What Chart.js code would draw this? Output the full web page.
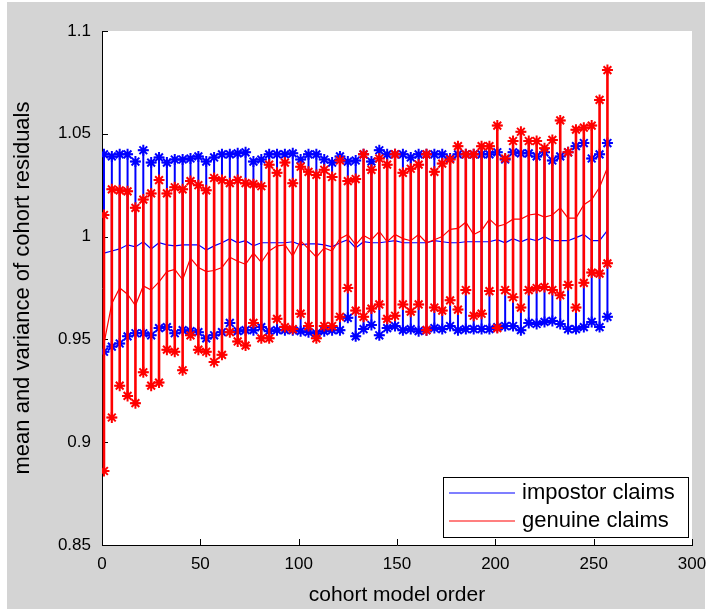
<!DOCTYPE html>
<html>
<head>
<meta charset="utf-8">
<script src="https://cdn.jsdelivr.net/npm/chart.js@4/dist/chart.umd.min.js"></script>
<style>
html,body{margin:0;padding:0;background:#ffffff;}
#bg{position:absolute;left:7px;top:2px;width:698px;height:607px;background:#d4d4d4;}
#wrap{position:absolute;left:0;top:0;width:709px;height:609px;}
</style>
</head>
<body>
<div id="bg"></div>
<div id="wrap"><canvas id="c" width="709" height="609"></canvas></div>
<script>
// ---- data ----
const cohortOrder = [1,5,9,13,17,21,25,29,33,37,41,45,49,53,57,61,65,69,73,77,81,85,89,93,97,101,105,109,113,117,121,125,129,133,137,141,145,149,153,157,161,165,169,173,177,181,185,189,193,197,201,205,209,213,217,221,225,229,233,237,241,245,249,253,257];

const impostorMean = [0.992,0.993,0.994,0.996,0.995,0.9975,0.994,0.997,0.996,0.9955,
  0.996,0.996,0.996,0.9935,0.9955,0.997,0.999,0.997,0.998,0.9955,
  0.997,0.997,0.997,0.997,0.9975,0.996,0.9965,0.9965,0.996,0.995,
  0.997,0.9985,0.9945,0.9975,0.997,0.997,0.9975,0.998,0.997,0.997,
  0.997,0.997,0.998,0.9975,0.997,0.997,0.9975,0.9975,0.9975,0.9975,
  0.9985,0.997,0.999,0.9975,0.999,0.998,1.000,0.998,0.998,0.998,
  0.9995,1.001,0.998,0.998,1.003];
const impostorHigh = [1.040,1.039,1.040,1.040,1.0365,1.042,1.036,1.0385,1.036,1.0375,
  1.0375,1.038,1.039,1.0365,1.0385,1.040,1.040,1.0405,1.041,1.0365,
  1.0375,1.040,1.040,1.040,1.0405,1.0375,1.040,1.040,1.0375,1.036,
  1.039,1.0365,1.037,1.040,1.0365,1.042,1.040,1.040,1.040,1.0385,
  1.040,1.040,1.040,1.040,1.038,1.040,1.040,1.040,1.040,1.040,
  1.041,1.0375,1.041,1.0405,1.0405,1.039,1.041,1.037,1.039,1.041,
  1.044,1.0455,1.038,1.040,1.0455];
const impostorLow = [0.944,0.9465,0.948,0.9515,0.953,0.953,0.952,0.9555,0.956,0.953,
  0.9545,0.954,0.9535,0.9505,0.952,0.9535,0.958,0.954,0.9545,0.9545,
  0.956,0.954,0.9545,0.9545,0.9545,0.954,0.9535,0.953,0.954,0.9545,
  0.9545,0.9605,0.9515,0.955,0.957,0.952,0.9555,0.9565,0.9545,0.955,
  0.954,0.9545,0.9555,0.955,0.9565,0.9545,0.955,0.955,0.955,0.955,
  0.956,0.9565,0.9565,0.9545,0.958,0.9575,0.9585,0.959,0.9575,0.955,
  0.955,0.956,0.9585,0.956,0.961];

const genuineMean = [0.948,0.9675,0.975,0.972,0.9665,0.976,0.974,0.978,0.983,0.984,
  0.979,0.9895,0.985,0.983,0.9835,0.985,0.990,0.988,0.9865,0.992,
  0.9875,0.993,0.9955,0.996,0.9905,0.998,0.994,0.990,0.9945,0.993,
  0.999,1.001,0.996,1.0005,0.9985,1.0025,0.9975,1.001,0.999,0.998,
  1.001,0.997,0.9985,1.000,1.0035,1.004,1.007,1.001,1.003,1.0085,
  1.005,1.006,1.0085,1.0085,1.0105,1.011,1.0095,1.0105,1.014,1.009,
  1.009,1.0155,1.018,1.024,1.0335];
const genuineHigh = [1.0105,1.023,1.0225,1.022,1.014,1.018,1.021,1.0275,1.021,1.024,
  1.023,1.027,1.025,1.0225,1.0285,1.0275,1.026,1.0275,1.026,1.0255,
  1.0245,1.035,1.031,1.036,1.026,1.034,1.0315,1.030,1.0325,1.029,
  1.037,1.027,1.028,1.040,1.0325,1.038,1.035,1.040,1.031,1.033,
  1.035,1.040,1.0315,1.0355,1.0375,1.044,1.040,1.040,1.044,1.044,
  1.054,1.038,1.0465,1.051,1.0465,1.0465,1.043,1.047,1.0565,1.041,
  1.052,1.053,1.054,1.0665,1.081];
const genuineLow = [0.886,0.912,0.9275,0.9225,0.919,0.934,0.9275,0.929,0.945,0.944,
  0.935,0.952,0.945,0.944,0.939,0.9425,0.9535,0.949,0.947,0.958,
  0.9505,0.9505,0.960,0.956,0.955,0.9625,0.9565,0.9505,0.9565,0.9565,
  0.961,0.975,0.964,0.961,0.965,0.967,0.960,0.9615,0.967,0.9635,
  0.967,0.9545,0.9655,0.964,0.969,0.9645,0.974,0.9615,0.9625,0.9735,
  0.9555,0.974,0.9705,0.9655,0.974,0.975,0.9755,0.974,0.9715,0.9765,
  0.9655,0.9775,0.9825,0.982,0.987];

const seriesNames = ['impostor claims', 'genuine claims'];
const xTicks = [0, 50, 100, 150, 200, 250, 300];
const yTicks = [0.85, 0.9, 0.95, 1, 1.05, 1.1];
const xTitle = 'cohort model order';
const yTitle = 'mean and variance of cohort residuals';

// ---- helpers that only reshape the arrays for Chart.js ----
const BLUE = '#0000ff', RED = '#ff0000';
function pts(xs, ys) { return xs.map((x, i) => ({x: x, y: ys[i]})); }
function segs(xs, lo, hi) { const d = []; xs.forEach((x, i) => { d.push({x: x, y: lo[i]}, {x: x, y: hi[i]}, {x: x, y: null}); }); return d; }
function ends(xs, lo, hi) { const d = []; xs.forEach((x, i) => { d.push({x: x, y: lo[i]}, {x: x, y: hi[i]}); }); return d; }

function errorSeries(name, color, mean, lo, hi, baseOrder, barWidth) {
  return [
    {label: name, data: pts(cohortOrder, mean), borderColor: color, backgroundColor: color, borderWidth: 1.2, pointRadius: 0, order: baseOrder, tension: 0},
    {label: '_' + name + '_bars', data: segs(cohortOrder, lo, hi), borderColor: color, borderWidth: barWidth, pointRadius: 0, spanGaps: false, order: baseOrder + 1},
    {label: '_' + name + '_caps', data: ends(cohortOrder, lo, hi), showLine: false, pointStyle: 'line', pointRadius: 5, pointHoverRadius: 5, pointBorderWidth: 1.5, borderColor: color, pointBorderColor: color, order: baseOrder - 1},
    {label: '_' + name + '_stars', data: ends(cohortOrder, lo, hi), showLine: false, pointStyle: 'star', pointRadius: 5.5, pointHoverRadius: 5.5, pointBorderWidth: 2, borderColor: color, pointBorderColor: color, order: baseOrder - 2}
  ];
}

const FONT = "'Liberation Sans', Arial, Helvetica, sans-serif";
Chart.defaults.font.family = FONT;
Chart.defaults.color = '#000000';

const plotBg = {
  id: 'plotBg',
  beforeDraw(chart) {
    const {ctx, chartArea: a} = chart;
    ctx.save();
    ctx.fillStyle = '#ffffff';
    ctx.fillRect(a.left, a.top, a.right - a.left, a.bottom - a.top);
    ctx.restore();
  }
};

const inwardTicks = {
  id: 'inwardTicks',
  beforeDatasetsDraw(chart) {
    const {ctx, chartArea: a} = chart;
    const xs = chart.scales.x, ys = chart.scales.y;
    ctx.save();
    ctx.strokeStyle = '#000000';
    ctx.lineWidth = 1;
    ctx.beginPath();
    xs.ticks.forEach(t => {
      const px = Math.round(xs.getPixelForValue(t.value)) + 0.5;
      ctx.moveTo(px, a.bottom); ctx.lineTo(px, a.bottom - 6);
    });
    ys.ticks.forEach(t => {
      const py = Math.round(ys.getPixelForValue(t.value)) + 0.5;
      ctx.moveTo(a.left, py); ctx.lineTo(a.left + 6, py);
    });
    ctx.stroke();
    ctx.restore();
  }
};

const boxLegend = {
  id: 'boxLegend',
  afterDatasetsDraw(chart) {
    const {ctx, chartArea: a} = chart;
    const items = chart.data.datasets.filter(d => !d.label.startsWith('_'));
    const w = 245, h = 60;
    const x = Math.round(a.right) - 249, y = Math.round(a.bottom) - 68;
    ctx.save();
    ctx.fillStyle = '#ffffff';
    ctx.fillRect(x, y, w, h);
    ctx.strokeStyle = '#000000';
    ctx.lineWidth = 1;
    ctx.strokeRect(x + 0.5, y + 0.5, w, h);
    ctx.font = '22px ' + FONT;
    ctx.textBaseline = 'middle';
    ctx.textAlign = 'left';
    items.forEach((d, i) => {
      const ry = y + 16 + i * 28;
      ctx.strokeStyle = d.borderColor;
      ctx.lineWidth = 1.2;
      ctx.beginPath();
      ctx.moveTo(x + 6, ry); ctx.lineTo(x + 72, ry);
      ctx.stroke();
      ctx.fillStyle = '#000000';
      ctx.fillText(d.label, x + 79, ry);
    });
    ctx.restore();
  }
};

const datasets = [
  ...errorSeries(seriesNames[0], BLUE, impostorMean, impostorLow, impostorHigh, 12, 2),
  ...errorSeries(seriesNames[1], RED, genuineMean, genuineLow, genuineHigh, 4, 2.6)
];

new Chart(document.getElementById('c'), {
  type: 'line',
  data: {datasets: datasets},
  options: {
    responsive: false,
    animation: false,
    events: [],
    layout: {padding: {left: 0, top: 31, right: 17, bottom: 0}},
    plugins: {legend: {display: false}, tooltip: {enabled: false}, title: {display: false}},
    scales: {
      x: {
        type: 'linear', min: 0, max: 300,
        afterBuildTicks: s => { s.ticks = xTicks.map(v => ({value: v})); },
        afterFit: s => { s.height = 64; s.paddingLeft = 0; s.paddingRight = 0; },
        ticks: {font: {size: 17}, padding: 9, maxRotation: 0, autoSkip: false, callback: v => String(v)},
        grid: {display: false, drawTicks: false},
        border: {display: true, color: '#000000', width: 1},
        title: {display: true, text: xTitle, font: {size: 21}, padding: {top: 0, bottom: 1}}
      },
      y: {
        type: 'linear', min: 0.85, max: 1.1,
        afterBuildTicks: s => { s.ticks = yTicks.map(v => ({value: v})); },
        afterFit: s => { s.width = 102; s.paddingTop = 0; s.paddingBottom = 0; },
        ticks: {font: {size: 17}, padding: 11, autoSkip: false, callback: v => String(v)},
        grid: {display: false, drawTicks: false},
        border: {display: true, color: '#000000', width: 1},
        title: {display: true, text: yTitle, font: {size: 22}, padding: {top: 10, bottom: 0}}
      }
    }
  },
  plugins: [plotBg, inwardTicks, boxLegend]
});
</script>
</body>
</html>
